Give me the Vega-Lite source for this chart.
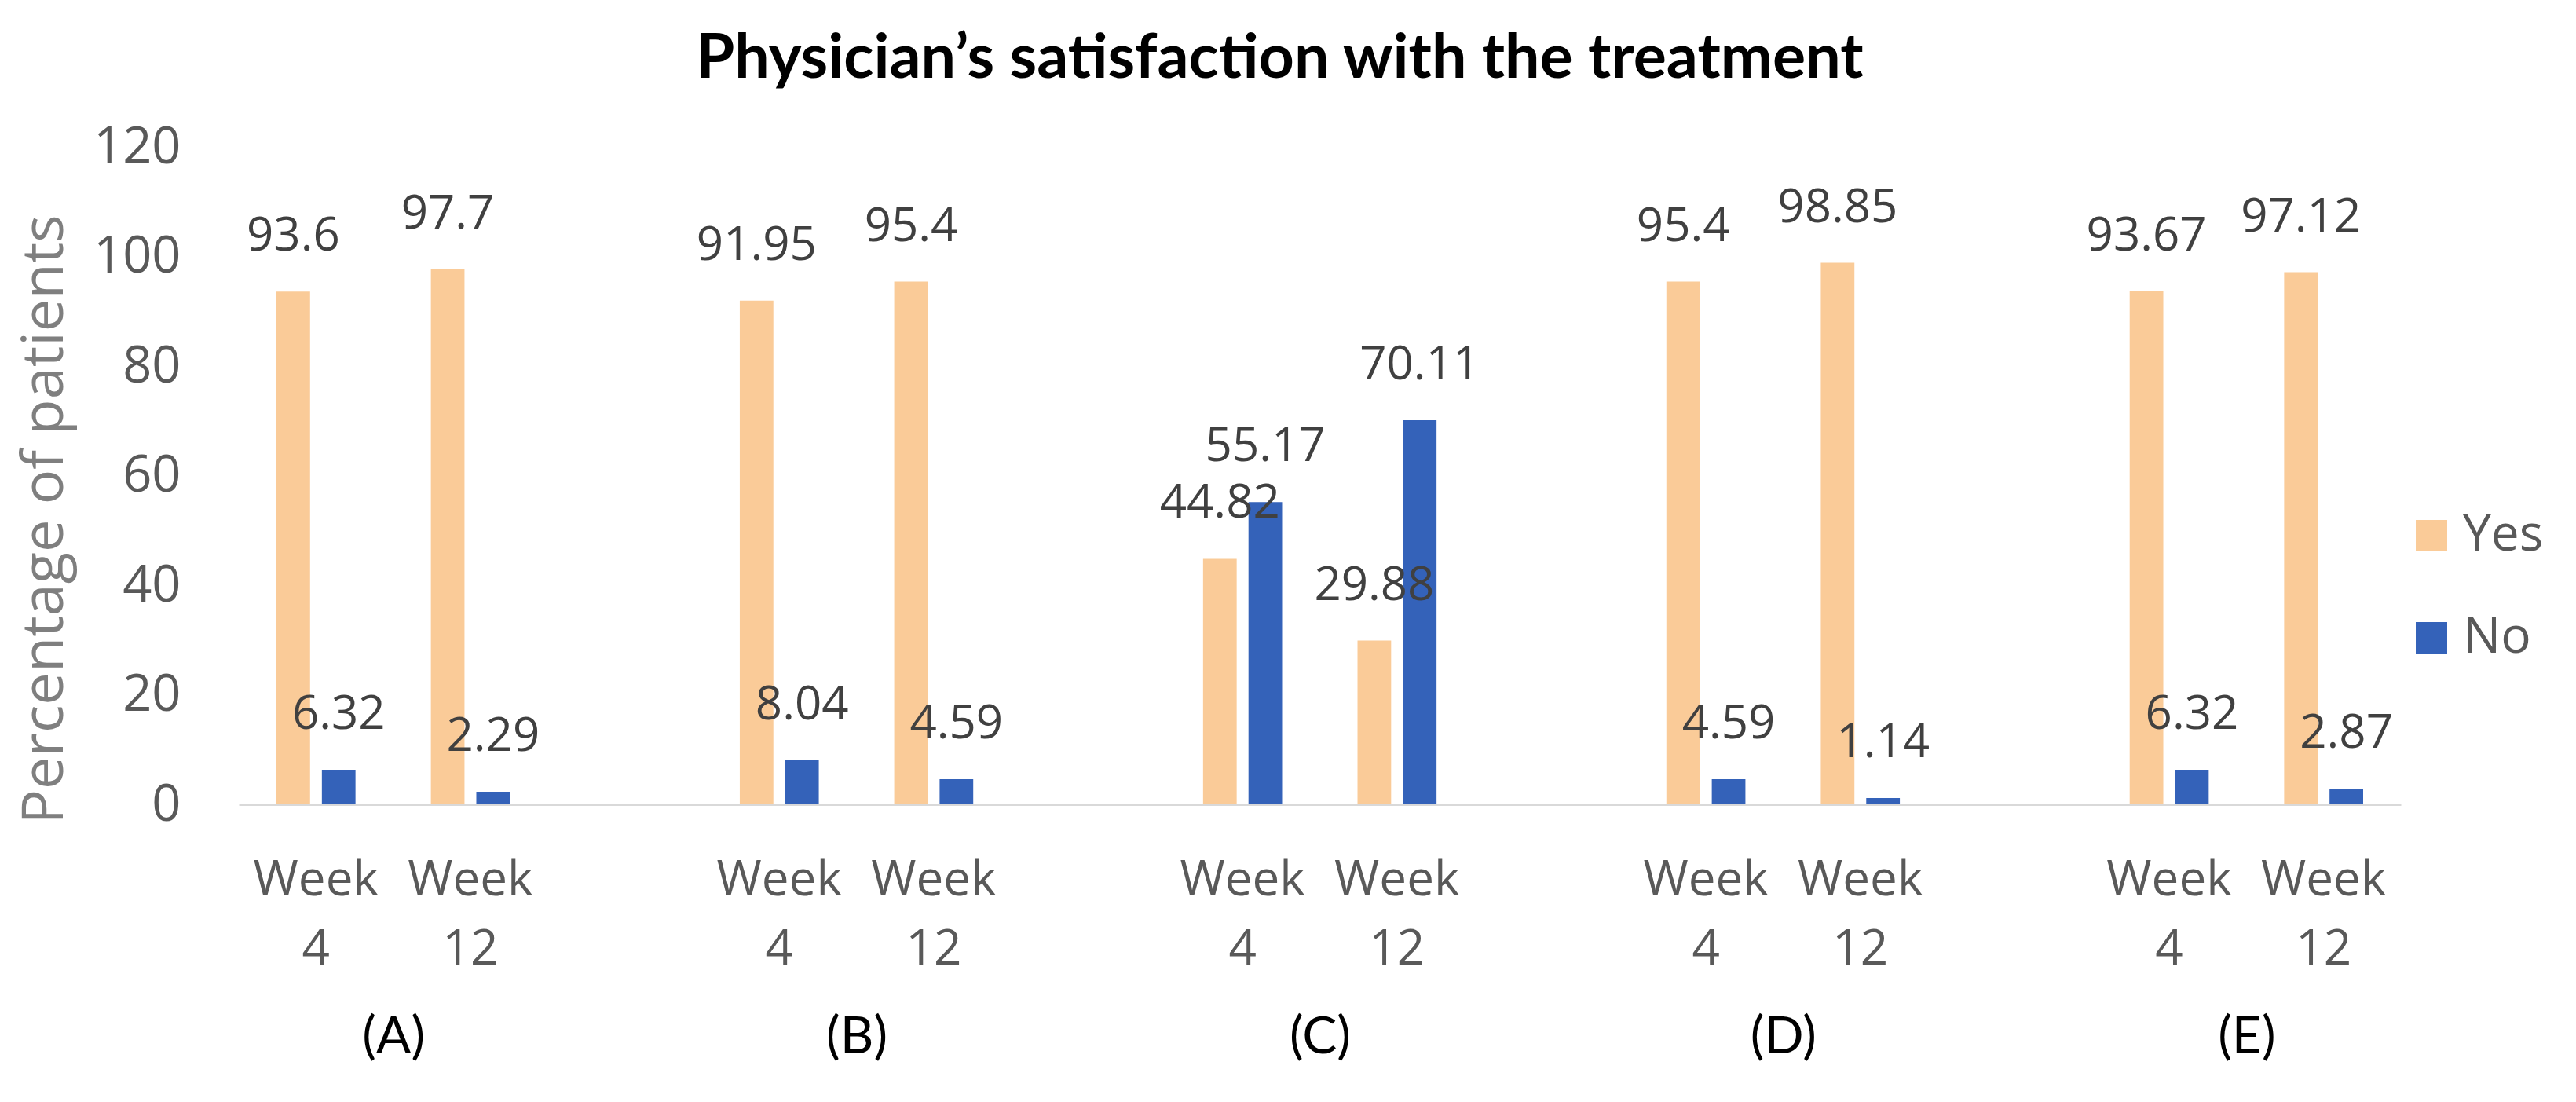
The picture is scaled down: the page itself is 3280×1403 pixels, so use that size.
{
  "$schema": "https://vega.github.io/schema/vega-lite/v6.json",
  "autosize": {"type": "none"},
  "width": 2753,
  "height": 837,
  "padding": {"left": 304, "top": 187, "right": 223, "bottom": 379},
  "background": "white",
  "title": {
    "text": "Physician’s satisfaction with the treatment",
    "font": "Lato",
    "fontWeight": "bold",
    "fontSize": 79,
    "color": "#000000",
    "anchor": "middle",
    "frame": "bounds",
    "baseline": "alphabetic",
    "offset": -23
  },
  "data": {
    "values": [
      {"group": "A", "slot": "A|Week 4", "response": "Yes", "value": 93.6},
      {"group": "A", "slot": "A|Week 4", "response": "No", "value": 6.32},
      {"group": "A", "slot": "A|Week 12", "response": "Yes", "value": 97.7},
      {"group": "A", "slot": "A|Week 12", "response": "No", "value": 2.29},
      {"group": "B", "slot": "B|Week 4", "response": "Yes", "value": 91.95},
      {"group": "B", "slot": "B|Week 4", "response": "No", "value": 8.04},
      {"group": "B", "slot": "B|Week 12", "response": "Yes", "value": 95.4},
      {"group": "B", "slot": "B|Week 12", "response": "No", "value": 4.59},
      {"group": "C", "slot": "C|Week 4", "response": "Yes", "value": 44.82},
      {"group": "C", "slot": "C|Week 4", "response": "No", "value": 55.17},
      {"group": "C", "slot": "C|Week 12", "response": "Yes", "value": 29.88},
      {"group": "C", "slot": "C|Week 12", "response": "No", "value": 70.11},
      {"group": "D", "slot": "D|Week 4", "response": "Yes", "value": 95.4},
      {"group": "D", "slot": "D|Week 4", "response": "No", "value": 4.59},
      {"group": "D", "slot": "D|Week 12", "response": "Yes", "value": 98.85},
      {"group": "D", "slot": "D|Week 12", "response": "No", "value": 1.14},
      {"group": "E", "slot": "E|Week 4", "response": "Yes", "value": 93.67},
      {"group": "E", "slot": "E|Week 4", "response": "No", "value": 6.32},
      {"group": "E", "slot": "E|Week 12", "response": "Yes", "value": 97.12},
      {"group": "E", "slot": "E|Week 12", "response": "No", "value": 2.87}
    ]
  },
  "layer": [
    {
      "layer": [
        {
          "mark": {"type": "bar"},
          "encoding": {
            "x": {
              "field": "slot",
              "type": "nominal",
              "sort": null,
              "scale": {
                "domain": ["A|Week 4", "A|Week 12", "gap1", "B|Week 4", "B|Week 12", "gap2", "C|Week 4", "C|Week 12", "gap3", "D|Week 4", "D|Week 12", "gap4", "E|Week 4", "E|Week 12"],
                "paddingInner": 0,
                "paddingOuter": 0
              },
              "axis": {
                "title": null,
                "labelExpr": "indexof(datum.value, 'gap') == 0 ? '' : split(split(datum.value, '|')[1], ' ')",
                "labelAngle": 0,
                "labelFont": "Open Sans",
                "labelFontSize": 62,
                "labelLineHeight": 88,
                "labelColor": "#595959",
                "labelBaseline": "top",
                "labelPadding": 66,
                "labelOverlap": false,
                "ticks": false,
                "domain": true,
                "domainColor": "#d9d9d9",
                "domainWidth": 3,
                "grid": false
              }
            },
            "xOffset": {
              "field": "response",
              "type": "nominal",
              "scale": {"domain": ["Yes", "No"], "paddingInner": 0.26, "paddingOuter": 0.83}
            },
            "y": {
              "field": "value",
              "type": "quantitative",
              "scale": {"domain": [0, 120]},
              "axis": {
                "title": "Percentage of patients",
                "titleFont": "Open Sans",
                "titleFontSize": 74,
                "titleFontWeight": "normal",
                "titleColor": "#7f7f7f",
                "titleX": -247,
                "titleY": 474,
                "titleAngle": -90,
                "titleAlign": "center",
                "titleBaseline": "middle",
                "values": [0, 20, 40, 60, 80, 100, 120],
                "labelFont": "Open Sans",
                "labelFontSize": 65,
                "labelColor": "#595959",
                "labelPadding": 74,
                "ticks": false,
                "domain": false,
                "grid": false
              }
            },
            "color": {
              "field": "response",
              "type": "nominal",
              "scale": {"domain": ["Yes", "No"], "range": ["#FACB98", "#3462B9"]},
              "legend": {
                "orient": "none",
                "legendX": 2760,
                "legendY": 463,
                "title": null,
                "symbolType": "square",
                "symbolSize": 1600,
                "symbolStrokeWidth": 0,
                "labelFont": "Open Sans",
                "labelFontSize": 64,
                "labelColor": "#595959",
                "labelOffset": 8,
                "rowPadding": 66,
                "padding": 0,
                "direction": "vertical"
              }
            }
          }
        },
        {
          "mark": {"type": "text", "font": "Open Sans", "fontSize": 60, "color": "#404040", "baseline": "middle", "align": "center", "dy": -70},
          "encoding": {
            "x": {"field": "slot", "type": "nominal", "sort": null},
            "xOffset": {"field": "response", "type": "nominal"},
            "y": {"field": "value", "type": "quantitative"},
            "text": {"field": "value", "type": "nominal"}
          }
        }
      ]
    },
    {
      "mark": {"type": "point", "opacity": 0},
      "encoding": {
        "x": {
          "field": "group",
          "type": "nominal",
          "scale": {"type": "point", "domain": ["A", "B", "C", "D", "E"], "padding": 0.3333},
          "axis": {
            "orient": "bottom",
            "title": null,
            "labelExpr": "'(' + datum.value + ')'",
            "labelAngle": 0,
            "labelFont": "Lato",
            "labelFontSize": 66,
            "labelColor": "#000000",
            "labelBaseline": "middle",
            "labelPadding": 296,
            "ticks": false,
            "domain": false,
            "grid": false
          }
        }
      }
    }
  ],
  "resolve": {"scale": {"x": "independent"}, "axis": {"x": "independent"}},
  "config": {"view": {"stroke": null}}
}
